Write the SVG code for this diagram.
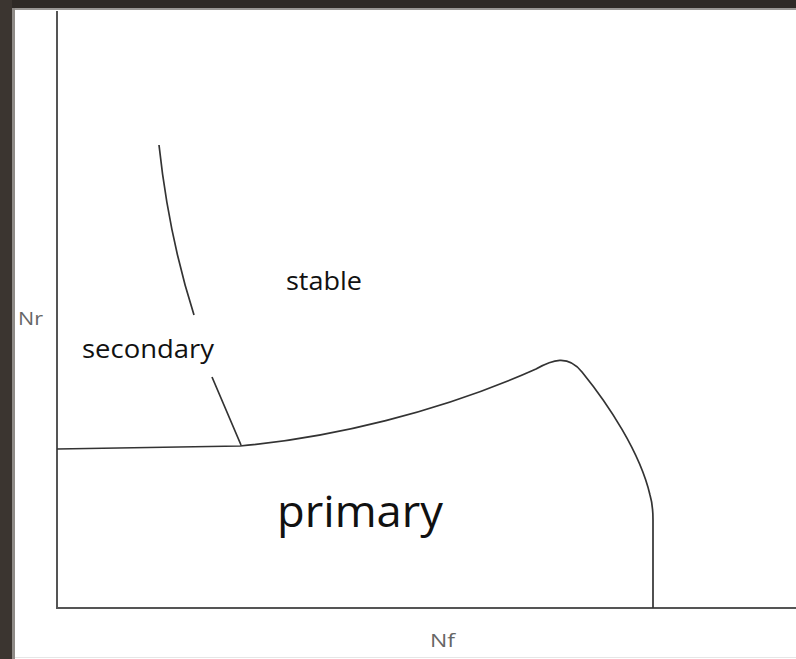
<svg xmlns="http://www.w3.org/2000/svg" width="796" height="659" viewBox="0 0 796 659">
<style>
.axis{fill:none;stroke:#555;stroke-width:2}
.curve{fill:none;stroke:#333;stroke-width:1.7}
.lbl{font-family:"Open Sans","Liberation Sans",sans-serif;fill:#111}
.ax{font-family:"Open Sans","Liberation Sans",sans-serif;fill:#666}
</style>
<rect x="0" y="0" width="796" height="659" fill="#ffffff"/>
<rect x="0" y="0" width="796" height="8" fill="#2f2a26"/>
<rect x="0" y="8" width="796" height="2" fill="#9a9794"/>
<rect x="0" y="0" width="12" height="659" fill="#3b3530"/>
<rect x="12" y="8" width="3" height="651" fill="#8f8b87"/>
<line x1="15" y1="657.5" x2="796" y2="657.5" stroke="#e6e6e6" stroke-width="1"/>
<g id="axes">
<line class="axis" x1="57" y1="11" x2="57" y2="608"/>
<line class="axis" x1="56" y1="608" x2="796" y2="608"/>
</g>
<g id="connectors">
<path class="curve" d="M57,449 L240,446 C330,438 440,412 536,369 C552,360 568,354 582,372 C608,404 640,452 650,495 C653,505 653,512 653,520 L653,608"/>
<path class="curve" d="M159,145 C166,210 178,265 194,315 M212,377 L241,445"/>
</g>
<g id="label-stable"><text class="lbl" x="286" y="290" font-size="25" textLength="76" lengthAdjust="spacingAndGlyphs">stable</text></g>
<g id="label-secondary"><text class="lbl" x="82" y="358" font-size="25" textLength="132" lengthAdjust="spacingAndGlyphs">secondary</text></g>
<g id="label-primary"><text class="lbl" x="277" y="527" font-size="43" textLength="166" lengthAdjust="spacingAndGlyphs">primary</text></g>
<g id="label-nr"><text class="ax" x="18" y="325" font-size="19" textLength="25" lengthAdjust="spacingAndGlyphs">Nr</text></g>
<g id="label-nf"><text class="ax" x="430" y="647" font-size="19" textLength="25" lengthAdjust="spacingAndGlyphs">Nf</text></g>
</svg>
